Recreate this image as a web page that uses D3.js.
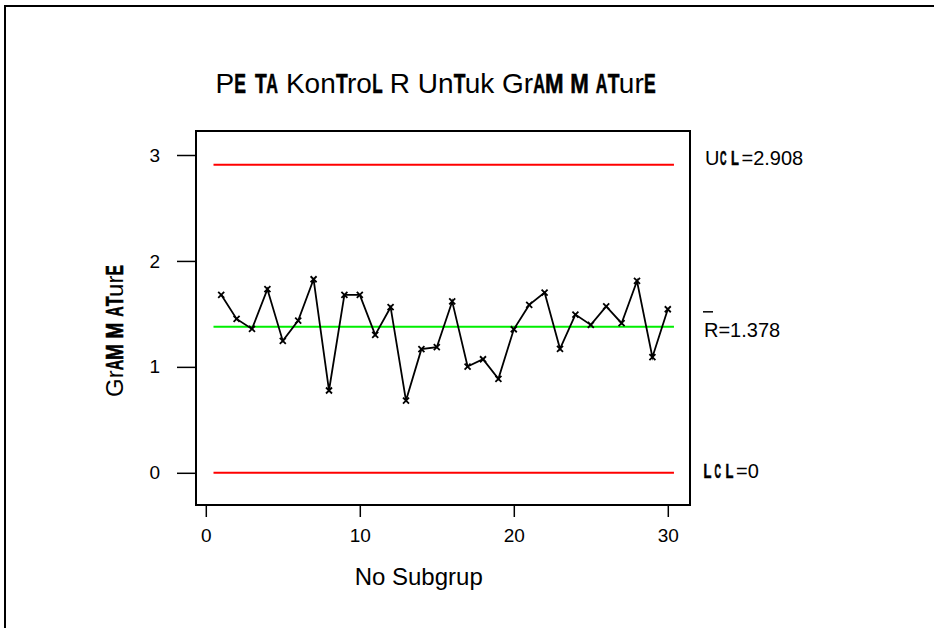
<!DOCTYPE html>
<html>
<head>
<meta charset="utf-8">
<script src="https://cdn.jsdelivr.net/npm/d3@7"></script>
<style>
  html, body { margin: 0; padding: 0; background: #fff; }
  svg { display: block; }
  text { font-family: "Liberation Sans", Arial, sans-serif; fill: #000; }
</style>
</head>
<body>
<svg id="chart" width="934" height="628"></svg>
<script>
// R chart data: range of each subgroup
const subgroups = [1,2,3,4,5,6,7,8,9,10,11,12,13,14,15,16,17,18,19,20,21,22,23,24,25,26,27,28,29,30];
const ranges = [1.680,1.453,1.358,1.733,1.245,1.437,1.827,0.777,1.680,1.680,
                1.302,1.563,0.682,1.167,1.186,1.618,1.003,1.072,0.887,1.355,
                1.585,1.701,1.170,1.494,1.396,1.570,1.412,1.811,1.091,1.544];
const UCL = 2.908, CL = 1.378, LCL = 0;
const xTicks = [0, 10, 20, 30];
const yTicks = [0, 1, 2, 3];

const svg = d3.select("#chart");

// outer page border (top and left edges)
svg.append("path")
  .attr("d", "M5,628 L5,6 L934,6")
  .attr("fill", "none").attr("stroke", "#000").attr("stroke-width", 2);

const frame = { left: 196, right: 690, top: 131, bottom: 505 };
const x = d3.scaleLinear().domain([0, 30]).range([205.8, 667.8]);
const y = d3.scaleLinear().domain([0, 3]).range([472.8, 155]);

// Writes a string where some glyphs are drawn in a tall, narrow heavy face.
// cond maps a character to [ink width em, advance em].
function drawMixed(parent, str, fs, cond) {
  const g = parent.append("g");
  let cx = 0, run = "";
  const flush = () => {
    if (!run) return;
    const t = g.append("text").attr("x", cx).attr("y", 0)
      .attr("font-size", fs).attr("xml:space", "preserve")
      .style("white-space", "pre").text(run);
    cx += t.node().getComputedTextLength();
    run = "";
  };
  for (const ch of str) {
    if (cond[ch]) {
      flush();
      const [ink, adv] = cond[ch];
      const t = g.append("text").attr("font-size", fs)
        .attr("font-family", "DejaVu Sans, sans-serif")
        .attr("font-weight", "bold")
        .attr("text-anchor", "middle")
        .attr("stroke", "#000").attr("stroke-width", 0.6)
        .text(ch);
      const w = t.node().getComputedTextLength();
      const s = (ink * fs) / (w * 0.86);
      t.attr("transform", `translate(${cx + ink * fs / 2 + 1},0) scale(${s},1)`);
      cx += adv * fs;
    } else {
      run += ch;
    }
  }
  flush();
  return g;
}

const condTitle = { E: [0.36, 0.74], T: [0.36, 0.40], A: [0.36, 0.43], M: [0.57, 0.90], L: [0.32, 0.36] };

// title
drawMixed(svg, "PETA KonTroL R UnTuk GrAMMATurE", 28, condTitle)
  .attr("transform", "translate(215.5,93)");

// y axis title (rotated)
drawMixed(svg, "GrAMMATurE", 24, condTitle)
  .attr("transform", "translate(123,397) rotate(-90)");

// x axis title
svg.append("text")
  .attr("x", 418.7).attr("y", 585)
  .attr("text-anchor", "middle").attr("font-size", 24)
  .text("No Subgrup");

// axes
const yAxis = svg.append("g")
  .attr("transform", `translate(${frame.left},0)`)
  .call(d3.axisLeft(y).tickValues(yTicks).tickFormat(d3.format("d"))
    .tickSize(19).tickSizeOuter(0).tickPadding(17));
const xAxis = svg.append("g")
  .attr("transform", `translate(0,${frame.bottom})`)
  .call(d3.axisBottom(x).tickValues(xTicks).tickFormat(d3.format("d"))
    .tickSize(12).tickSizeOuter(0).tickPadding(12));
[yAxis, xAxis].forEach(a => {
  a.select(".domain").remove();
  a.selectAll(".tick line").attr("stroke", "#000").attr("stroke-width", 1.5);
  a.selectAll(".tick text").attr("font-size", 19)
    .attr("font-family", "Liberation Sans, Arial, sans-serif").attr("fill", "#000");
});

// plot frame
svg.append("rect")
  .attr("x", frame.left).attr("y", frame.top)
  .attr("width", frame.right - frame.left).attr("height", frame.bottom - frame.top)
  .attr("fill", "none").attr("stroke", "#000").attr("stroke-width", 2);

// control limits and center line
const limitSpan = [0.5, 30.4];
const limits = [
  { v: UCL, color: "#ff0000" },
  { v: CL, color: "#00ee00" },
  { v: LCL, color: "#ff0000" }
];
svg.selectAll("line.limit").data(limits).join("line")
  .attr("class", "limit")
  .attr("x1", x(limitSpan[0])).attr("x2", x(limitSpan[1]))
  .attr("y1", d => y(d.v)).attr("y2", d => y(d.v))
  .attr("stroke", d => d.color).attr("stroke-width", 2);

// range series
const line = d3.line().x((d, i) => x(subgroups[i])).y(d => y(d));
svg.append("path")
  .attr("d", line(ranges))
  .attr("fill", "none").attr("stroke", "#000").attr("stroke-width", 1.8);

const m = 3;
svg.selectAll("path.pt").data(ranges).join("path")
  .attr("class", "pt")
  .attr("d", (d, i) => {
    const px = x(subgroups[i]), py = y(d);
    return `M${px - m},${py - m}L${px + m},${py + m}M${px - m},${py + m}L${px + m},${py - m}`;
  })
  .attr("stroke", "#000").attr("stroke-width", 1.8);

// limit labels
const condLabel = { C: [0.28, 0.55], L: [0.34, 0.55] };
drawMixed(svg, "UCL=" + UCL.toFixed(3), 20, condLabel)
  .attr("transform", `translate(705,${y(UCL)})`);
drawMixed(svg, "LCL=" + LCL, 20, condLabel)
  .attr("transform", `translate(703,${y(LCL) + 5})`);
const rb = y(CL) + 10;
svg.append("text").attr("x", 704).attr("y", rb).attr("font-size", 20)
  .text("R=" + CL.toFixed(3));
svg.append("line")
  .attr("x1", 703).attr("x2", 713).attr("y1", rb - 25).attr("y2", rb - 25)
  .attr("stroke", "#000").attr("stroke-width", 1.5);
</script>
</body>
</html>
